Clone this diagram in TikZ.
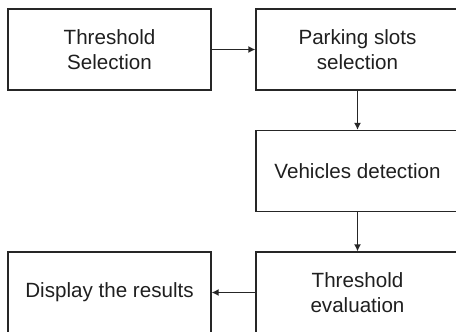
\documentclass[tikz,border=0pt]{standalone}
\usepackage{fontspec}
\setmainfont{Liberation Sans}
\usetikzlibrary{arrows.meta}
\begin{document}
\begin{tikzpicture}[x=1pt,y=-1pt,
  box/.style={draw=black!85,line width=1.3pt,minimum width=203pt,minimum height=81pt,
    inner sep=0pt,align=center,font=\fontsize{20.6}{25}\selectfont,text=black!88},
  conn/.style={draw=black!85,line width=1.3pt,-{Latex[length=7pt,width=7pt]}}]
\useasboundingbox (0,0) rectangle (456,332);
\clip (0,0) rectangle (456,332);
\node[box] (thr) at (109.5,49.5) {Threshold\\Selection};
\node[box] (park) at (357.5,49.5) {Parking slots\\selection};
\node[box] (veh) at (357.5,171) {Vehicles detection};
\node[box] (eval) at (357.5,292.5) {Threshold\\evaluation};
\node[box] (disp) at (109.5,292.5) {Display the results};
\draw[conn] (thr) -- (park);
\draw[conn] (park) -- (veh);
\draw[conn] (veh) -- (eval);
\draw[conn] (eval) -- (disp);
\end{tikzpicture}
\end{document}
